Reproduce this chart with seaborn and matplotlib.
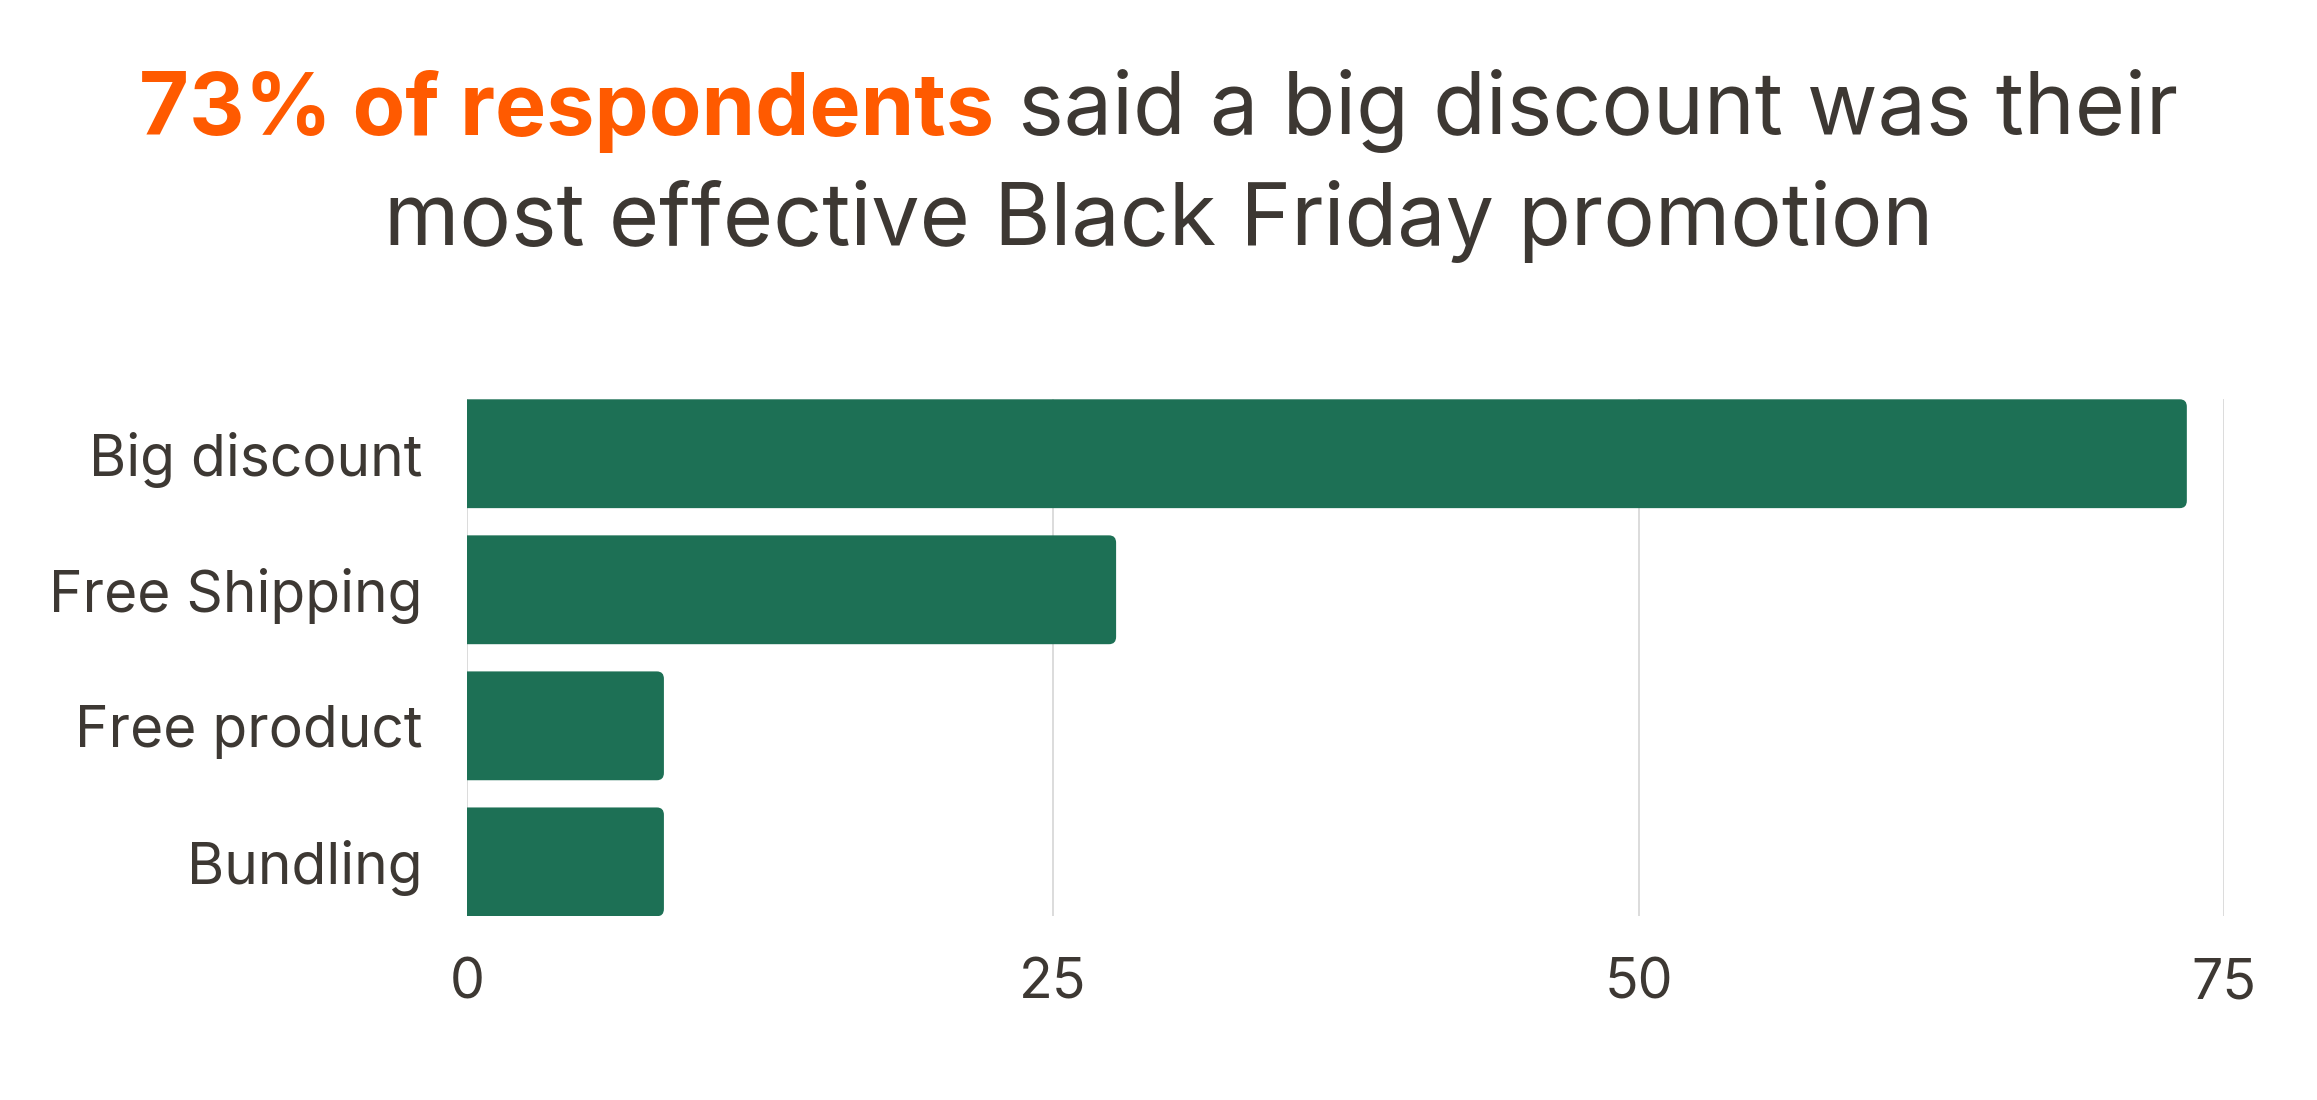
import numpy as np
import pandas as pd
import seaborn as sns
import matplotlib.pyplot as plt
from matplotlib.patches import FancyBboxPatch

# data
categories = ["Big discount", "Free Shipping", "Free product", "Bundling"]
values = [73.4, 27.7, 8.4, 8.4]
x_ticks = [0, 25, 50, 75]

title_bold = "73% of respondents"
title_rest = " said a big discount was their"
title_line2 = "most effective Black Friday promotion"

bar_color = "#1d7055"
text_color = "#3d3833"
orange = "#ff5a00"
grid_color = "#d9d9d9"

sns.set_theme(style="white")
plt.rcParams['font.family'] = ['Inter', 'DejaVu Sans']

df = pd.DataFrame({"promo": categories, "share": values})

fig = plt.figure(figsize=(23.17, 11), dpi=100)
ax = fig.add_axes([0.2016, 0.167, 0.7584, 0.470])

sns.barplot(data=df, x="share", y="promo", color=bar_color, width=0.8,
            saturation=1, ax=ax)

# swap plain rectangles for slightly rounded ones
for p in list(ax.patches):
    x0, y0 = p.get_x(), p.get_y()
    w, h = p.get_width(), p.get_height()
    rb = FancyBboxPatch((x0 - 1, y0), w + 1, h,
                        boxstyle="round,pad=0,rounding_size=0.3",
                        mutation_aspect=0.18, facecolor=bar_color,
                        edgecolor="none", zorder=2)
    p.remove()
    ax.add_patch(rb)

ax.set_xlim(0, 75)
ax.set_ylim(3.4, -0.4)
ax.set_xticks(x_ticks)
ax.set_xticklabels([str(t) for t in x_ticks])
ax.grid(axis='x', color=grid_color, linewidth=1.3)
ax.grid(axis='y', visible=False)
ax.set_axisbelow(True)
for s in ax.spines.values():
    s.set_visible(False)
ax.set_xlabel("")
ax.set_ylabel("")
ax.tick_params(axis='y', length=0, pad=32, labelsize=41, labelcolor=text_color)
ax.tick_params(axis='x', length=0, pad=30, labelsize=40, labelcolor=text_color)

# two-tone title line, centred on the figure
fs = 62
fig.canvas.draw()
r = fig.canvas.get_renderer()
t1 = fig.text(0, 0.899, title_bold, fontsize=fs, fontweight='bold', color=orange,
              va='center', ha='left')
t2 = fig.text(0, 0.899, title_rest, fontsize=fs, color=text_color,
              va='center', ha='left')
w1 = t1.get_window_extent(r).width
w2 = t2.get_window_extent(r).width
figw = fig.bbox.width
start = (figw - w1 - w2) / 2
t1.set_x(start / figw)
t2.set_x((start + w1) / figw)
fig.text(0.5, 0.799, title_line2, fontsize=fs, color=text_color,
         va='center', ha='center')

fig.savefig("out.png", dpi=100, facecolor="white")
